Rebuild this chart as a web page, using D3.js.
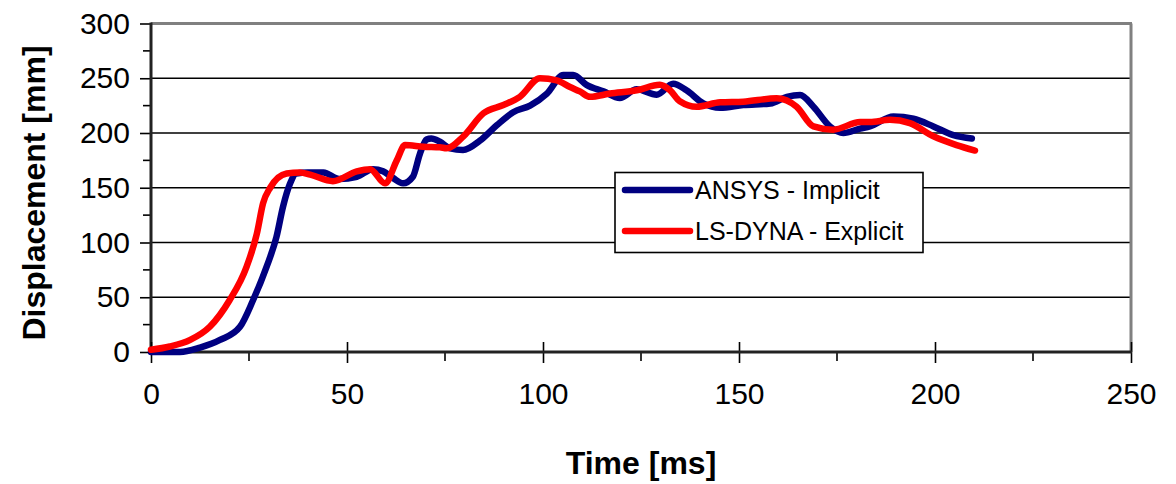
<!DOCTYPE html>
<html>
<head>
<meta charset="utf-8">
<script src="https://cdn.jsdelivr.net/npm/d3@7"></script>
<style>
  html, body { margin: 0; padding: 0; background: #fff; }
  svg { display: block; font-family: "Liberation Sans", Arial, sans-serif; }
</style>
</head>
<body>
<svg id="chart" width="1176" height="484"></svg>
<script>
// ---- data ----
const ansysTime = [0, 7.4, 12.5, 17.6, 22.7, 26, 29.5, 32, 33.7, 35.5, 37, 40, 44, 48, 52.5, 56.6, 59.2, 61.7, 64.3, 66.8, 68.6, 70.3, 71.5, 73.7, 76.3, 79.6, 83.9, 88.2, 92.4, 96.7, 101, 105.2, 107.7, 111.1, 115.4, 119.6, 123.9, 129, 133.2, 136.6, 140.9, 145.2, 151.1, 158, 162.2, 165.6, 169, 173.2, 176.6, 180.9, 183.4, 189.4, 194.5, 199.6, 204.7, 209.4];
const ansysDisp = [0, 0, 4, 11, 23, 47, 78, 105, 133, 154, 163, 164, 164, 158, 160, 167, 165, 159, 154, 160, 181, 194, 195, 192, 186, 184.5, 193, 207, 219, 225, 236, 253, 253, 244, 238, 232, 240, 235, 245, 239, 227, 223, 225.5, 227, 233, 234.7, 224, 206, 200, 204, 206, 215, 213, 206, 198, 195];

const dynaTime = [0, 4.8, 10, 15, 20, 24.4, 27, 28.6, 30.4, 34.6, 38, 40.6, 46.4, 52.5, 55.9, 59.7, 62.7, 64.8, 69.5, 73.7, 75.4, 79.7, 84.8, 89.9, 94.1, 99.2, 103.5, 106.9, 109.4, 112, 117.1, 123.9, 129.8, 132.4, 134.9, 139.2, 145.2, 151.1, 159.6, 164.7, 169, 174, 180.9, 183.4, 188.5, 193.6, 199.6, 205.5, 210.2];
const dynaDisp = [2, 5, 11, 23, 47, 78, 108, 136, 150, 163, 164, 162, 156, 165, 167, 154, 175, 189, 187.5, 187, 186, 197, 218, 225.5, 233, 250, 248, 242, 238, 233, 236, 239, 244, 239, 229, 224, 228, 228.6, 231.7, 224, 206, 203, 210, 210, 212, 209, 197, 189, 184];

const seriesNames = ["ANSYS - Implicit", "LS-DYNA - Explicit"];
const xTicks = [0, 50, 100, 150, 200, 250];
const yTicks = [0, 50, 100, 150, 200, 250, 300];
const xTitle = "Time [ms]";
const yTitle = "Displacement [mm]";

// ---- layout ----
const svg = d3.select("#chart");
const L = 151, R = 1131, T = 23.5, B = 352;
const x = d3.scaleLinear().domain([0, 250]).range([L, R]);
const y = d3.scaleLinear().domain([0, 300]).range([B, T]);

// horizontal gridlines
svg.append("g").selectAll("line")
  .data(yTicks.filter(v => v > 0 && v < 300))
  .join("line")
  .attr("x1", L).attr("x2", R)
  .attr("y1", d => y(d)).attr("y2", d => y(d))
  .attr("stroke", "#000").attr("stroke-width", 1.5);

// top & right border (gray)
svg.append("line").attr("x1", L).attr("x2", R + 1).attr("y1", y(300)).attr("y2", y(300))
  .attr("stroke", "#808080").attr("stroke-width", 3);
svg.append("line").attr("x1", R).attr("x2", R).attr("y1", y(300)).attr("y2", B)
  .attr("stroke", "#808080").attr("stroke-width", 3);

// y axis
const yAxis = d3.axisLeft(y).tickValues(yTicks).tickSize(11).tickPadding(10);
const gy = svg.append("g").attr("transform", `translate(${L},0)`).call(yAxis);
gy.select(".domain").remove();
gy.selectAll(".tick line").attr("stroke", "#000").attr("stroke-width", 1.6);
gy.selectAll(".tick text").attr("font-size", 30).attr("fill", "#000")
  .attr("font-family", "'Liberation Sans', Arial, sans-serif");
// minor y ticks
svg.append("g").selectAll("line")
  .data(d3.range(25, 300, 50))
  .join("line")
  .attr("x1", L - 8).attr("x2", L)
  .attr("y1", d => y(d)).attr("y2", d => y(d))
  .attr("stroke", "#000").attr("stroke-width", 1.6);
svg.append("line").attr("x1", L).attr("x2", L).attr("y1", y(300) - 1).attr("y2", B + 1)
  .attr("stroke", "#222").attr("stroke-width", 3);

// x axis
const xAxis = d3.axisBottom(x).tickValues(xTicks).tickSize(11).tickPadding(20);
const gx = svg.append("g").attr("transform", `translate(0,${B})`).call(xAxis);
gx.select(".domain").remove();
gx.selectAll(".tick line").attr("y1", -10).attr("stroke", "#000").attr("stroke-width", 1.6);
gx.selectAll(".tick text").attr("font-size", 30).attr("fill", "#000")
  .attr("font-family", "'Liberation Sans', Arial, sans-serif");
svg.append("g").selectAll("line")
  .data(d3.range(25, 250, 50))
  .join("line")
  .attr("x1", d => x(d)).attr("x2", d => x(d))
  .attr("y1", B).attr("y2", B + 9)
  .attr("stroke", "#000").attr("stroke-width", 1.6);
svg.append("line").attr("x1", L - 1).attr("x2", R + 1).attr("y1", B).attr("y2", B)
  .attr("stroke", "#222").attr("stroke-width", 3);

// series lines
const line = d3.line().x(d => x(d[0])).y(d => y(d[1])).curve(d3.curveMonotoneX);
const ansys = d3.zip(ansysTime, ansysDisp);
const dyna = d3.zip(dynaTime, dynaDisp);
const colors = ["#000080", "#ff0000"];
svg.append("path").datum(ansys).attr("d", line)
  .attr("fill", "none").attr("stroke", colors[0]).attr("stroke-width", 6.5)
  .attr("stroke-linejoin", "round").attr("stroke-linecap", "round");
svg.append("path").datum(dyna).attr("d", line)
  .attr("fill", "none").attr("stroke", colors[1]).attr("stroke-width", 6.5)
  .attr("stroke-linejoin", "round").attr("stroke-linecap", "round");

// legend
const lg = svg.append("g");
lg.append("rect").attr("x", 615).attr("y", 172.5).attr("width", 308).attr("height", 80)
  .attr("fill", "#fff").attr("stroke", "#000").attr("stroke-width", 1.6);
seriesNames.forEach((name, i) => {
  const yy = 190 + i * 41;
  lg.append("line").attr("x1", 625).attr("x2", 690).attr("y1", yy).attr("y2", yy)
    .attr("stroke", colors[i]).attr("stroke-width", 6.5).attr("stroke-linecap", "round");
  lg.append("text").attr("x", 695).attr("y", yy + 9).attr("font-size", 25)
    .attr("fill", "#000").text(name);
});

// axis titles
svg.append("text").attr("x", 641).attr("y", 474).attr("text-anchor", "middle")
  .attr("font-size", 32).attr("font-weight", "bold").attr("fill", "#000").text(xTitle);
svg.append("text").attr("transform", `translate(45,193) rotate(-90)`)
  .attr("text-anchor", "middle").attr("font-size", 32).attr("font-weight", "bold")
  .attr("fill", "#000").text(yTitle);
</script>
</body>
</html>
